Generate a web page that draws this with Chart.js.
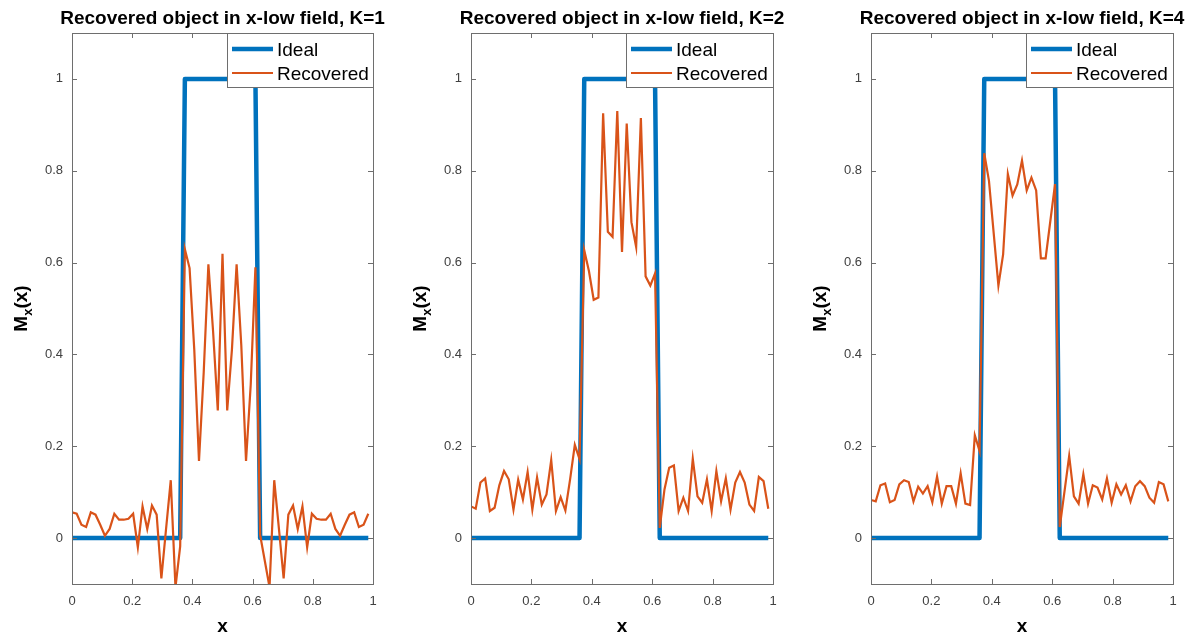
<!DOCTYPE html>
<html>
<head>
<meta charset="utf-8">
<script src="https://cdn.jsdelivr.net/npm/chart.js@4.4.0/dist/chart.umd.min.js"></script>
<style>
  body { margin: 0; background: #fff; }
  #wrap { position: relative; width: 1202px; height: 636px; }
  .pane { position: absolute; top: 0; }
</style>
</head>
<body>
<div id="wrap">
  <canvas class="pane" id="c1" width="400" height="636" style="left:0px"></canvas>
  <canvas class="pane" id="c2" width="400" height="636" style="left:399px"></canvas>
  <canvas class="pane" id="c3" width="403" height="636" style="left:799px"></canvas>
</div>
<script>
// sample grid x = 0:1/64:63/64
const xSamples = Array.from({ length: 64 }, (_, i) => i / 64);

const idealVals = [
  0, 0, 0, 0, 0, 0, 0, 0, 0, 0, 0, 0, 0, 0, 0, 0, 0, 0, 0, 0, 0, 0, 0, 0,
  1, 1, 1, 1, 1, 1, 1, 1, 1, 1, 1, 1, 1, 1, 1, 1,
  0, 0, 0, 0, 0, 0, 0, 0, 0, 0, 0, 0, 0, 0, 0, 0, 0, 0, 0, 0, 0, 0, 0, 0
];

const recK1 = [
  0.056, 0.053, 0.029, 0.024, 0.056, 0.051, 0.029, 0.005, 0.020, 0.053, 0.040, 0.040,
  0.042, 0.053, -0.020, 0.069, 0.020, 0.071, 0.051, -0.088, 0.020, 0.126, -0.107, -0.018,
  0.629, 0.588, 0.410, 0.168, 0.360, 0.596, 0.450, 0.278, 0.619, 0.278, 0.410, 0.596,
  0.419, 0.168, 0.334, 0.590,
  0.007, -0.050, -0.107, 0.126, 0.020, -0.088, 0.051, 0.071, 0.020, 0.069, -0.020, 0.053,
  0.042, 0.040, 0.040, 0.053, 0.020, 0.005, 0.029, 0.051, 0.056, 0.024, 0.029, 0.053
];

const recK2 = [
  0.069, 0.064, 0.121, 0.130, 0.059, 0.066, 0.115, 0.146, 0.128, 0.062, 0.127, 0.084,
  0.144, 0.062, 0.132, 0.073, 0.095, 0.170, 0.059, 0.089, 0.060, 0.128, 0.203, 0.172,
  0.627, 0.581, 0.519, 0.524, 0.925, 0.667, 0.656, 0.930, 0.623, 0.903, 0.688, 0.634,
  0.915, 0.570, 0.550, 0.576,
  0.022, 0.106, 0.153, 0.158, 0.059, 0.088, 0.059, 0.173, 0.091, 0.077, 0.128, 0.059,
  0.146, 0.080, 0.130, 0.062, 0.121, 0.144, 0.121, 0.073, 0.059, 0.133, 0.124, 0.064
];

const recK4 = [
  0.083, 0.080, 0.115, 0.119, 0.078, 0.083, 0.117, 0.126, 0.122, 0.080, 0.112, 0.097,
  0.113, 0.078, 0.134, 0.075, 0.113, 0.113, 0.075, 0.141, 0.075, 0.072, 0.224, 0.190,
  0.838, 0.778, 0.664, 0.550, 0.618, 0.793, 0.746, 0.770, 0.822, 0.757, 0.785, 0.757,
  0.609, 0.609, 0.690, 0.771,
  0.024, 0.101, 0.179, 0.091, 0.075, 0.139, 0.075, 0.115, 0.110, 0.084, 0.130, 0.077,
  0.117, 0.095, 0.115, 0.080, 0.113, 0.124, 0.113, 0.088, 0.077, 0.122, 0.117, 0.080
];

const xTicks = [0, 0.2, 0.4, 0.6, 0.8, 1];
const xTickLabels = ['0', '0.2', '0.4', '0.6', '0.8', '1'];
const yTicks = [0, 0.2, 0.4, 0.6, 0.8, 1];
const yTickLabels = ['0', '0.2', '0.4', '0.6', '0.8', '1'];

const titles = [
  'Recovered object in x-low field, K=1',
  'Recovered object in x-low field, K=2',
  'Recovered object in x-low field, K=4'
];
const seriesNames = ['Ideal', 'Recovered'];

const FONT = '"Liberation Sans", Arial, Helvetica, sans-serif';
const BLUE = '#0072BD';
const ORANGE = '#D95319';
const AXIS = '#6e6e6e';
const TXT = '#404040';

function pts(vals) {
  return vals.map((v, i) => ({ x: xSamples[i], y: v }));
}

// box, inward ticks, legend, title and axis labels (matlab look)
const decor = {
  id: 'decor',
  afterDatasetsDraw(chart, args, opts) {
    const { ctx, chartArea: a } = chart;
    const sx = chart.scales.x, sy = chart.scales.y;
    ctx.save();

    ctx.strokeStyle = AXIS;
    ctx.lineWidth = 1;
    ctx.beginPath();
    xTicks.forEach(v => {
      const px = Math.round(sx.getPixelForValue(v)) + 0.5;
      ctx.moveTo(px, a.bottom); ctx.lineTo(px, a.bottom - 5);
      ctx.moveTo(px, a.top); ctx.lineTo(px, a.top + 5);
    });
    yTicks.forEach(v => {
      const py = Math.round(sy.getPixelForValue(v)) + 0.5;
      ctx.moveTo(a.left, py); ctx.lineTo(a.left + 5, py);
      ctx.moveTo(a.right, py); ctx.lineTo(a.right - 5, py);
    });
    ctx.stroke();
    ctx.strokeRect(Math.round(a.left) + 0.5, Math.round(a.top) + 0.5,
      Math.round(a.width), Math.round(a.height));

    // legend, top right
    const lx = Math.round(a.left) + 155, ly = Math.round(a.top);
    const lw = Math.round(a.right) - lx, lh = 54;
    ctx.fillStyle = '#fff';
    ctx.fillRect(lx, ly, lw, lh);
    ctx.strokeStyle = AXIS;
    ctx.strokeRect(lx + 0.5, ly + 0.5, lw, lh);
    ctx.lineCap = 'butt';
    ctx.strokeStyle = BLUE; ctx.lineWidth = 4.5;
    ctx.beginPath(); ctx.moveTo(lx + 5, ly + 16); ctx.lineTo(lx + 46, ly + 16); ctx.stroke();
    ctx.strokeStyle = ORANGE; ctx.lineWidth = 2;
    ctx.beginPath(); ctx.moveTo(lx + 5, ly + 40); ctx.lineTo(lx + 46, ly + 40); ctx.stroke();
    ctx.fillStyle = '#000';
    ctx.font = '19px ' + FONT;
    ctx.textAlign = 'left';
    ctx.textBaseline = 'alphabetic';
    ctx.fillText(seriesNames[0], lx + 50, ly + 22.5);
    ctx.fillText(seriesNames[1], lx + 50, ly + 47);

    // title
    const cx = (a.left + a.right) / 2;
    ctx.font = 'bold 19px ' + FONT;
    ctx.textAlign = 'center';
    ctx.fillText(opts.title, cx, 24);

    // x label
    ctx.font = 'bold 19px ' + FONT;
    ctx.fillText('x', cx, 632);

    // y label M_x(x), rotated
    const cy = (a.top + a.bottom) / 2;
    ctx.translate(27, cy);
    ctx.rotate(-Math.PI / 2);
    ctx.textAlign = 'left';
    const big = 'bold 19px ' + FONT, small = 'bold 13px ' + FONT;
    ctx.font = big; const wM = ctx.measureText('M').width, wP = ctx.measureText('(x)').width;
    ctx.font = small; const wS = ctx.measureText('x').width;
    let tx = -(wM + wS + wP) / 2;
    ctx.font = big; ctx.fillText('M', tx, 0); tx += wM;
    ctx.font = small; ctx.fillText('x', tx, 5); tx += wS;
    ctx.font = big; ctx.fillText('(x)', tx, 0);

    ctx.restore();
  }
};

function makeChart(id, rec, title, padRight) {
  return new Chart(document.getElementById(id), {
    type: 'line',
    data: {
      datasets: [
        { label: seriesNames[1], data: pts(rec), borderColor: ORANGE, borderWidth: 2.2,
          pointRadius: 0, tension: 0, clip: 0, order: 0 },
        { label: seriesNames[0], data: pts(idealVals), borderColor: BLUE, borderWidth: 4.5,
          pointRadius: 0, tension: 0, clip: 0, order: 1, borderJoinStyle: 'round' }
      ]
    },
    options: {
      responsive: false,
      animation: false,
      events: [],
      layout: { padding: { top: 33, right: padRight, left: 0, bottom: 0 } },
      plugins: {
        legend: { display: false },
        tooltip: { enabled: false },
        decor: { title: title }
      },
      scales: {
        x: {
          type: 'linear', min: 0, max: 1,
          afterBuildTicks: s => { s.ticks = xTicks.map(v => ({ value: v })); },
          afterFit: s => { s.height = 52; },
          grid: { display: false, drawTicks: false },
          border: { display: false },
          ticks: { padding: 10, color: TXT, font: { family: FONT, size: 13 },
            maxRotation: 0, autoSkip: false, callback: (v, i) => xTickLabels[i] }
        },
        y: {
          type: 'linear', min: -0.1, max: 1.1,
          afterBuildTicks: s => { s.ticks = yTicks.map(v => ({ value: v })); },
          afterFit: s => { s.width = 72; },
          grid: { display: false, drawTicks: false },
          border: { display: false },
          ticks: { padding: 9, color: TXT, font: { family: FONT, size: 13 },
            autoSkip: false, callback: (v, i) => yTickLabels[i] }
        }
      }
    },
    plugins: [decor]
  });
}

makeChart('c1', recK1, titles[0], 27);
makeChart('c2', recK2, titles[1], 26);
makeChart('c3', recK4, titles[2], 29);
</script>
</body>
</html>
